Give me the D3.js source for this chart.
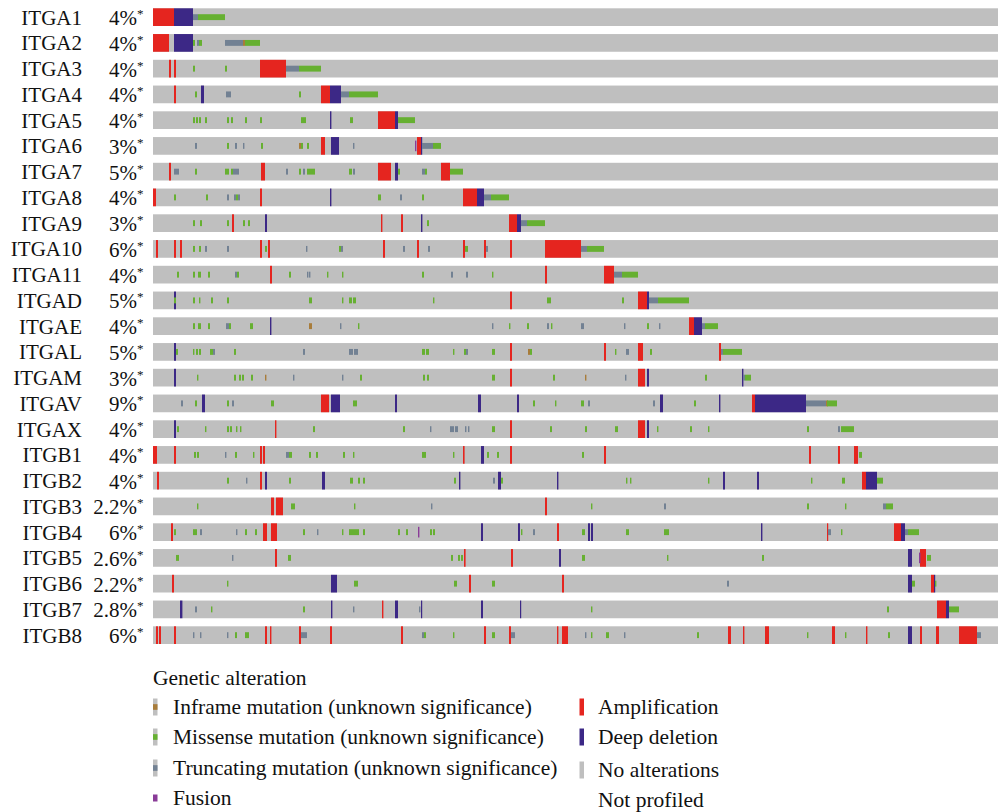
<!DOCTYPE html>
<html>
<head>
<meta charset="utf-8">
<script src="https://cdn.jsdelivr.net/npm/d3@7"></script>
<style>
  body { margin: 0; background: #fff; }
  text { font-family: "Liberation Serif", "Times New Roman", serif; fill: #111; }
</style>
</head>
<body>
<svg id="onco" width="998" height="812" viewBox="0 0 998 812"></svg>
<script>
// genes (rows) and altered-percentage labels
const genes = ["ITGA1","ITGA2","ITGA3","ITGA4","ITGA5","ITGA6","ITGA7","ITGA8","ITGA9","ITGA10","ITGA11",
  "ITGAD","ITGAE","ITGAL","ITGAM","ITGAV","ITGAX","ITGB1","ITGB2","ITGB3","ITGB4","ITGB5","ITGB6","ITGB7","ITGB8"];
const pcts = ["4%","4%","4%","4%","4%","3%","5%","4%","3%","6%","4%","5%","4%","5%","3%","9%","4%","4%","4%",
  "2.2%","6%","2.6%","2.2%","2.8%","6%"];

// alterations per gene: [first sample, number of samples, type]
// A = amplification, D = deep deletion, M = missense, T = truncating, I = inframe, F = fusion
const ITGA1 = [[0,10.5,"A"],[10.5,9.5,"D"],[20,2.5,"T"],[22.5,13.5,"M"]];
const ITGA2 = [[0,8,"A"],[10.5,9.5,"D"],[20,1,"M"],[22,1,"T"],[23,1.5,"M"],[36,9,"T"],[45,1,"I"],[46,7.5,"M"]];
const ITGA3 = [[8,1,"A"],[10.5,1,"A"],[20,1,"M"],[36,1,"M"],[53.5,13,"A"],[66.5,6.5,"T"],[73,11,"M"]];
const ITGA4 = [[10.5,1,"A"],[21,1,"M"],[24,1.5,"D"],[36.5,2.5,"T"],[73,1,"M"],[84,4.5,"A"],[88.5,5.5,"D"],[94,4,"T"],[98,14.5,"M"]];
const ITGA5 = [[20,1,"M"],[21.5,1,"M"],[23,1,"M"],[26,1,"M"],[37,1,"M"],[39,1,"M"],[46,1,"M"],[53.5,1,"M"],[74,2.5,"M"],
  [88.5,0.7,"D"],[98.5,1.5,"M"],[112.5,8.5,"A"],[121,1.5,"D"],[122.5,8.5,"M"]];
const ITGA6 = [[21,1,"T"],[37,1,"M"],[41,1,"T"],[45,0.7,"T"],[54,1,"M"],[73,1,"I"],[74,1,"M"],[77,1,"M"],[84,2,"A"],[89,4,"D"],
  [100,0.7,"T"],[131,0.7,"F"],[132,2,"A"],[134,0.6,"D"],[134.5,5.5,"T"],[140,4,"M"]];
const ITGA7 = [[8,1,"A"],[10.5,2.5,"T"],[21,1,"M"],[36,1,"M"],[37,1,"M"],[39,1,"M"],[40,3,"T"],[54,2,"A"],[66.5,1,"T"],[73,1,"M"],
  [75,1,"T"],[77,4,"M"],[98,1.5,"M"],[100,1,"T"],[112.5,6.5,"A"],[121,1.5,"D"],[122.5,1,"M"],[134.5,1.5,"T"],[136,1,"M"],
  [144,4.5,"A"],[148.5,6.5,"M"]];
const ITGA8 = [[0,1.5,"A"],[10.5,1,"M"],[26.5,1,"M"],[37,1,"T"],[40.5,1,"T"],[41.5,1,"M"],[42.5,1,"T"],[53.5,1,"A"],[88.5,0.7,"D"],
  [112.5,1.5,"M"],[123.5,1,"T"],[134.5,1,"M"],[155,7,"A"],[162,3.5,"D"],[165.5,3.5,"T"],[169,9,"M"]];
const ITGA9 = [[20,1,"M"],[23.5,1,"M"],[37,1,"M"],[39.5,1,"A"],[45,1,"M"],[47.5,1,"M"],[56,1,"D"],[114,0.7,"A"],[124,1,"A"],
  [134,0.7,"D"],[137,1,"M"],[178,4,"A"],[182,2,"D"],[184,3,"T"],[187,9,"M"]];
const ITGA10 = [[1.5,1,"A"],[10.5,1,"A"],[13.5,1,"A"],[20,1,"M"],[23,1,"M"],[26,1,"T"],[37,1,"T"],[53.5,1,"A"],[56,1,"M"],
  [57.5,1,"A"],[76.5,0.7,"T"],[93,1,"M"],[94,1,"T"],[115,1,"A"],[125,1,"T"],[132,1,"A"],[137.5,1,"T"],[155,1,"A"],[156,1.5,"M"],
  [165.5,1,"A"],[166.5,1,"T"],[178.5,1,"A"],[196,18,"A"],[214,3,"T"],[217,8.5,"M"]];
const ITGA11 = [[12,1,"M"],[20,1,"M"],[22.5,1.5,"M"],[27.5,1,"M"],[41,1,"T"],[42,1,"M"],[58.5,1,"A"],[68,1,"M"],[77,0.7,"T"],
  [78,0.7,"T"],[87,0.7,"M"],[94.5,0.7,"M"],[134.5,1,"M"],[149,1,"T"],[156.5,1,"T"],[169.5,0.7,"M"],[196,1,"A"],[225.5,5,"A"],
  [230.5,4,"T"],[234.5,8,"M"]];
const ITGAD = [[10.5,1,"D"],[10.5,1,"M"],[20,1,"M"],[23,0.7,"M"],[29,1,"M"],[37,1,"M"],[78,1.5,"M"],[94.5,0.7,"M"],[98,1.5,"M"],
  [100,1.5,"M"],[140,0.7,"M"],[178.5,1,"A"],[197,2,"M"],[234.5,1,"M"],[242.5,4.5,"A"],[247,1,"D"],[248,4.5,"T"],[252.5,15.5,"M"]];
const ITGAE = [[20,1,"M"],[22.5,1.5,"M"],[27.5,1,"M"],[36.5,1.5,"T"],[38,1,"M"],[48.5,1.5,"M"],[58.5,0.7,"D"],[78,1.5,"I"],
  [93.5,0.7,"T"],[102.5,0.7,"M"],[169.5,0.7,"T"],[178,0.7,"M"],[187,1,"M"],[197,1,"T"],[199,0.7,"M"],[214,1.5,"T"],
  [235.5,0.7,"T"],[247,1,"M"],[253,0.7,"T"],[268,2.5,"A"],[270.5,4,"D"],[274.5,1.5,"T"],[276,6.5,"M"]];
const ITGAL = [[10.5,1,"D"],[11.5,1,"M"],[20,0.7,"M"],[21.5,1,"M"],[23,1,"M"],[28.5,1.5,"M"],[30,1,"T"],[40.5,1,"M"],[75,1,"T"],
  [98,2,"T"],[100.5,2,"T"],[134.5,1.5,"M"],[136.5,1.5,"M"],[150,0.7,"M"],[155.5,1,"M"],[156.5,1,"T"],[169.5,1.5,"M"],
  [178.5,1,"A"],[187.5,1,"I"],[188.5,1,"M"],[225.5,1,"A"],[231,0.7,"M"],[236.5,1.5,"T"],[242.5,2.5,"A"],[248.5,1,"M"],
  [283,1,"A"],[284,1,"T"],[285,9.5,"M"]];
const ITGAM = [[10.5,1,"D"],[22,0.7,"M"],[40.5,1,"M"],[43,1,"M"],[44.5,1,"M"],[49,1,"M"],[56,0.7,"I"],[70,0.7,"T"],[94.5,0.7,"T"],
  [103.5,1,"M"],[135,1,"M"],[137,1,"M"],[169.5,1.5,"M"],[178.5,1,"A"],[200,1,"M"],[216,0.7,"I"],[236,0.7,"T"],[242.5,3.5,"A"],
  [247,1,"D"],[276,1,"M"],[294.5,0.7,"D"],[295,1,"T"],[296,3,"M"]];
const ITGAV = [[14,1,"T"],[21,1,"M"],[24.5,1.5,"D"],[37,1,"M"],[39.5,1,"T"],[59,1.5,"M"],[84,4,"A"],[89,4.5,"D"],[100,2,"M"],
  [121,1,"D"],[162.5,1.5,"D"],[182,1,"D"],[190,1,"M"],[201,0.7,"M"],[214,1.5,"M"],[217.5,1,"T"],[250,1,"T"],[253.5,1.5,"D"],
  [270.5,1,"M"],[283,0.7,"D"],[299.5,1.5,"A"],[301,25.5,"D"],[326.5,10,"T"],[336.5,1,"I"],[337,5,"M"]];
const ITGAX = [[10.5,1,"D"],[12,1,"M"],[26,0.7,"M"],[37,1,"M"],[38.5,1,"M"],[41.5,0.7,"M"],[43.5,0.7,"M"],[61,0.7,"A"],[80,1,"M"],
  [125,1,"M"],[138.5,0.7,"T"],[148.5,2,"T"],[151,1.5,"T"],[156,0.7,"T"],[157.5,0.7,"T"],[169.5,1.5,"M"],[178.5,1,"A"],
  [198.5,1,"M"],[216,1,"M"],[231,1.5,"M"],[242.5,3.5,"A"],[247,1,"D"],[252,0.7,"M"],[268.5,1,"M"],[277.5,0.7,"M"],[327,1,"M"],
  [342.5,1,"T"],[344,6.5,"M"]];
const ITGB1 = [[0,2,"A"],[10.5,1,"A"],[20.5,1,"M"],[22,1,"M"],[36,0.7,"T"],[41,1,"M"],[50,0.7,"M"],[53.5,1,"A"],[55,1,"A"],
  [66.5,1.5,"T"],[68,1.5,"M"],[78,1,"M"],[81.5,1,"M"],[95,1,"M"],[100,0.7,"M"],[134.5,2,"M"],[150,0.7,"M"],[155,0.8,"A"],
  [164,1.5,"D"],[167,1,"M"],[172,1,"M"],[178.5,1,"A"],[214.5,1,"M"],[225.5,1,"A"],[328,1,"A"],[342.5,1,"A"],[350.5,2,"A"],[353,1.5,"M"]];
const ITGB2 = [[2,1,"A"],[37,1,"M"],[46.5,0.7,"T"],[53.5,1,"A"],[56,1,"D"],[68,1,"M"],[84.5,1.5,"D"],[98.5,1.5,"M"],[102.5,1,"M"],
  [105,1,"M"],[150.5,1,"M"],[153,0.7,"D"],[170,1,"T"],[172.5,1.5,"D"],[174,1,"M"],[202,0.7,"D"],[236.5,0.7,"M"],[238.5,0.7,"M"],
  [277.5,0.7,"M"],[285,1,"D"],[302,1,"D"],[329,0.7,"M"],[344.5,1.5,"M"],[354.5,2,"A"],[356.5,5.5,"D"],[362,3,"M"]];
const ITGB3 = [[22,0.7,"M"],[59,1.5,"A"],[61.5,3.5,"A"],[69,2,"M"],[100.5,0.7,"M"],[139,0.7,"T"],[196,1,"A"],[219,0.7,"M"],
  [255.5,1,"T"],[327,1,"M"],[346,0.7,"M"],[365,1.5,"T"],[366.5,3.5,"M"]];
const ITGB4 = [[9,1,"A"],[10.5,1,"M"],[20,2,"M"],[23.5,1,"T"],[41.5,0.7,"T"],[46,1,"M"],[51,1,"M"],[55,2,"A"],[59,1,"A"],[60,2,"A"],
  [75,1,"M"],[82,0.7,"T"],[94.5,0.7,"M"],[98,5,"M"],[105,1,"M"],[122.5,1,"M"],[126.5,1,"M"],[132.5,0.7,"F"],[138.5,1,"M"],
  [140,1,"M"],[164,1,"D"],[182.5,1,"D"],[184,0.7,"M"],[190,1,"T"],[202,1,"A"],[214.5,1.5,"M"],[217.5,1,"D"],[219,1,"D"],
  [236.5,1.5,"M"],[255.5,2.5,"M"],[304,0.7,"D"],[337,0.6,"A"],[337.5,1.5,"T"],[344,0.7,"M"],[370.5,3.5,"A"],[374,2,"D"],
  [376,1.5,"T"],[377.5,5.5,"M"]];
const ITGB5 = [[11.5,1.5,"M"],[39.5,0.7,"T"],[61,1,"A"],[67.5,1.5,"M"],[149,1,"M"],[152.5,1,"M"],[154,1,"M"],[155.5,0.8,"A"],
  [179,1,"A"],[203,1,"D"],[214.5,1.5,"M"],[257,0.7,"M"],[304.5,1,"M"],[377.5,2,"D"],[383,0.7,"F"],[383.5,3,"A"],[387,2,"M"]];
const ITGB6 = [[9.5,1,"A"],[37,0.7,"M"],[89,3,"D"],[100.5,2,"M"],[150.5,1.5,"M"],[158,1,"A"],[169.5,1.5,"M"],[204.5,1,"A"],
  [287,1,"T"],[377.5,2,"D"],[379.5,1.5,"M"],[389,1.5,"A"],[390.5,0.6,"D"],[391,0.7,"M"]];
const ITGB7 = [[13.5,1.2,"D"],[21,1,"T"],[29,0.7,"M"],[75,1,"M"],[89,0.7,"D"],[100,0.7,"T"],[114.5,0.7,"A"],[121,1.5,"D"],
  [133,0.7,"T"],[134,0.6,"D"],[164,1,"D"],[183.5,0.6,"D"],[219,0.7,"M"],[367,1,"M"],[392,4.5,"A"],[396.5,1.5,"D"],[398,5,"M"]];
const ITGB8 = [[1.5,1,"A"],[3,1,"A"],[10.5,1,"A"],[20,0.7,"T"],[23.5,0.7,"T"],[37,0.7,"T"],[41,1,"M"],[46,2,"M"],[56,1,"A"],
  [58.5,0.7,"A"],[73,1,"A"],[74,3,"T"],[88.5,1,"A"],[124,1,"A"],[134.5,1,"T"],[135.5,1,"M"],[150,0.7,"M"],[165.5,1,"A"],
  [169.5,1.5,"M"],[178,1,"A"],[179,2,"T"],[202,0.7,"A"],[204.5,3,"A"],[216,0.7,"T"],[219,0.7,"M"],[226.5,1.5,"M"],[235.5,0.7,"T"],
  [272,1,"M"],[287.5,1.5,"A"],[295,0.7,"A"],[306,2,"A"],[327,0.7,"M"],[339.5,1.5,"A"],[346,0.7,"M"],[356.5,0.7,"A"],[367.5,1,"M"],
  [377.5,2,"D"],[383.5,1,"A"],[391.5,1.5,"A"],[403,9,"A"],[412,2,"T"]];

const alterations = [ITGA1, ITGA2, ITGA3, ITGA4, ITGA5, ITGA6, ITGA7, ITGA8, ITGA9, ITGA10, ITGA11, ITGAD, ITGAE, ITGAL,
  ITGAM, ITGAV, ITGAX, ITGB1, ITGB2, ITGB3, ITGB4, ITGB5, ITGB6, ITGB7, ITGB8];

const nSamples = 424;

const legendLeft = [["I","Inframe mutation (unknown significance)"],["M","Missense mutation (unknown significance)"],
  ["T","Truncating mutation (unknown significance)"],["F","Fusion"]];
const legendRight = [["A","Amplification"],["D","Deep deletion"],["N","No alterations"],["X","Not profiled"]];

const colors = {A: "#e5251f", D: "#3c2886", M: "#66b031", T: "#728193", I: "#a87c3a", F: "#8a3c98", N: "#bfbfbf"};

const svg = d3.select("#onco");

const x = d3.scaleLinear().domain([0, nSamples]).range([153, 1001]);
const y = d3.scaleBand().domain(genes).range([8.3, 644]).paddingInner(0.3126).paddingOuter(0);
const bw = y.bandwidth();

// background rows
svg.append("g").selectAll("rect")
  .data(genes)
  .join("rect")
  .attr("x", x(0))
  .attr("y", d => y(d))
  .attr("width", x(nSamples) - x(0))
  .attr("height", bw)
  .attr("fill", colors.N);

// flatten alterations with their gene
const cells = [];
alterations.forEach((list, i) => {
  list.forEach(a => cells.push({gene: genes[i], start: a[0], len: a[1], type: a[2]}));
});
const order = {A: 0, D: 0, T: 1, M: 1, I: 1, F: 2};
cells.sort((a, b) => order[a.type] - order[b.type]);

svg.append("g").selectAll("rect")
  .data(cells)
  .join("rect")
  .attr("x", d => x(d.start))
  .attr("width", d => x(d.start + d.len) - x(d.start))
  .attr("y", d => {
    if (d.type === "A" || d.type === "D") return y(d.gene);
    if (d.type === "F") return y(d.gene) + bw * 0.2;
    return y(d.gene) + bw / 3;
  })
  .attr("height", d => {
    if (d.type === "A" || d.type === "D") return bw;
    if (d.type === "F") return bw * 0.6;
    return bw / 3;
  })
  .attr("fill", d => colors[d.type]);

// gene labels
svg.append("g").selectAll("text")
  .data(genes)
  .join("text")
  .attr("x", 82)
  .attr("y", d => y(d) + bw / 2 + 7.5)
  .attr("text-anchor", "end")
  .style("font-size", "21px")
  .text(d => d);

// percentage labels with superscript asterisk
const pl = svg.append("g").selectAll("text")
  .data(genes)
  .join("text")
  .attr("x", 143.5)
  .attr("y", d => y(d) + bw / 2 + 8)
  .attr("text-anchor", "end")
  .style("font-size", "21px");
pl.append("tspan").text((d, i) => pcts[i]);
pl.append("tspan").attr("dy", -7).style("font-size", "13px").text("*");

// legend
const lg = svg.append("g");
lg.append("text").attr("x", 153).attr("y", 685).style("font-size", "21.5px").text("Genetic alteration");

function swatch(g, type, sx, cy) {
  const h = 17, w = 4.5;
  if (type === "X") return;
  if (type === "F") {
    g.append("rect").attr("x", sx).attr("y", cy - 3.5).attr("width", w).attr("height", 7).attr("fill", colors.F);
    return;
  }
  if (type === "A" || type === "D" || type === "N") {
    g.append("rect").attr("x", sx).attr("y", cy - h / 2).attr("width", w).attr("height", h).attr("fill", colors[type]);
    return;
  }
  g.append("rect").attr("x", sx).attr("y", cy - h / 2).attr("width", w).attr("height", h).attr("fill", colors.N);
  g.append("rect").attr("x", sx).attr("y", cy - h / 6).attr("width", w).attr("height", h / 3).attr("fill", colors[type]);
}

const rowsY = [707, 737, 768, 798];
legendLeft.forEach((d, i) => {
  swatch(lg, d[0], 153, rowsY[i]);
  lg.append("text").attr("x", 173).attr("y", rowsY[i] + 7).style("font-size", "21.5px").text(d[1]);
});
legendRight.forEach((d, i) => {
  swatch(lg, d[0], 579.5, rowsY[i] + (i >= 2 ? 2 : 0));
  lg.append("text").attr("x", 598).attr("y", rowsY[i] + 7 + (i >= 2 ? 2 : 0)).style("font-size", "21.5px").text(d[1]);
});
</script>
</body>
</html>
